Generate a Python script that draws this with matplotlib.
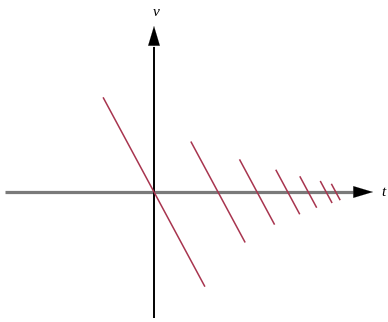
import matplotlib
matplotlib.use("Agg")
import matplotlib.pyplot as plt

# Data: crossing times of each decaying segment and its amplitude
t_centers = [0.0, 1.0, 1.61, 2.09, 2.41, 2.69, 2.84]
amplitudes = [1.0, 0.53, 0.34, 0.23, 0.16, 0.11, 0.08]
slope_ratio = 0.79  # horizontal half-extent per unit amplitude

fig = plt.figure(figsize=(3.88, 3.22), dpi=100)
ax = fig.add_axes([0, 0, 1, 1])
ax.set_xlim(-154 / 64, (388 - 154) / 64)
ax.set_ylim(-130 / 94, 192 / 94)
ax.axis("off")

# horizontal t-axis (gray)
ax.plot([-149 / 64, 199 / 64], [0, 0], color="#7a7a7a", lw=2.3, solid_capstyle="butt", zorder=2)
ax.annotate("", xy=(219 / 64, 0), xytext=(199 / 64, 0),
            arrowprops=dict(arrowstyle="-|>,head_length=1.4,head_width=0.42",
                            color="black", lw=0.1, shrinkA=0, shrinkB=0), zorder=3)
# vertical v-axis (black)
ax.plot([0, 0], [-126 / 94, 145 / 94], color="black", lw=1.4, solid_capstyle="butt", zorder=2)
ax.annotate("", xy=(0, 166 / 94), xytext=(0, 145 / 94),
            arrowprops=dict(arrowstyle="-|>,head_length=1.4,head_width=0.42",
                            color="black", lw=0.1, shrinkA=0, shrinkB=0), zorder=3)

for tc, a in zip(t_centers, amplitudes):
    dx = slope_ratio * a
    ax.plot([tc - dx, tc + dx], [a, -a], color="#a8354f", lw=1.1, zorder=4)

ax.text(2 / 64, 179 / 94, "v", fontsize=11, fontstyle="italic", family="Liberation Serif",
        ha="center", va="center")
ax.text(229 / 64, -1 / 94, "t", fontsize=11, fontstyle="italic", family="Liberation Serif",
        ha="center", va="center")

fig.savefig("out.png", dpi=100)
